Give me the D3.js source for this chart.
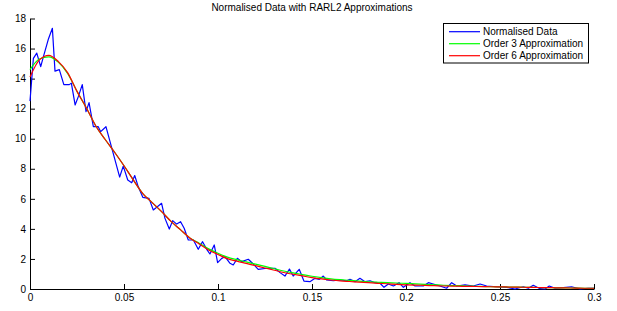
<!DOCTYPE html>
<html>
<head>
<meta charset="utf-8">
<script src="https://cdn.jsdelivr.net/npm/d3@7"></script>
<style>
  body { margin: 0; background: #fff; }
  svg { font-family: "Liberation Sans", Arial, sans-serif; }
  .axis text { font-size: 10px; fill: #000; }
  .axis path, .axis line { stroke: #000; }
</style>
</head>
<body>
<div id="chart"></div>
<script>
// normalised data (blue)
var dataX = [0, 0.0018, 0.0036, 0.0057, 0.0071, 0.0097, 0.0119, 0.0133, 0.0156, 0.018,
  0.0209, 0.022, 0.024, 0.0257, 0.0278, 0.0298, 0.0314, 0.0337, 0.0363, 0.0376,
  0.0404, 0.0477, 0.0496, 0.052, 0.0541, 0.0557, 0.0576, 0.06, 0.0633, 0.0656,
  0.0674, 0.07, 0.0718, 0.0741, 0.0759, 0.078, 0.0801, 0.082, 0.0842, 0.0869,
  0.0895, 0.0918, 0.094, 0.0957, 0.098, 0.0998, 0.102, 0.1037, 0.1064, 0.1081,
  0.1103, 0.1126, 0.1161, 0.1188, 0.1214, 0.1259, 0.1303, 0.133, 0.1356, 0.138,
  0.14, 0.1432, 0.1457, 0.1489, 0.1516, 0.1539, 0.156, 0.1578, 0.1613, 0.1649,
  0.1684, 0.1702, 0.1729, 0.1755, 0.1782, 0.1809, 0.1835, 0.1862, 0.1883, 0.1906,
  0.1933, 0.1963, 0.1986, 0.2021, 0.2048, 0.2092, 0.2119, 0.2145, 0.218, 0.2216,
  0.2243, 0.227, 0.2314, 0.2358, 0.2394, 0.2429, 0.2482, 0.2536, 0.258, 0.2624,
  0.2651, 0.2677, 0.2713, 0.274, 0.2762, 0.2793, 0.2837, 0.2881, 0.2926, 0.297, 0.3]
var dataY = [12.5, 15.35, 15.7, 14.8, 15.45, 16.6, 17.35, 14.5, 14.6, 13.6,
  13.6, 13.7, 12.25, 12.8, 13.6, 11.8, 12.4, 10.8, 10.8, 10.47,
  10.8, 7.45, 8.18, 7.25, 7.07, 7.55, 6.8, 6.1, 6.03, 5.26,
  5.44, 5.7, 4.7, 3.99, 4.55, 4.32, 4.48, 4.04, 3.26, 3.26,
  2.64, 3.15, 2.64, 2.33, 2.93, 1.75, 2.04, 2.15, 1.71, 1.6,
  2.04, 1.82, 1.98, 1.66, 1.31, 1.38, 1.38, 1.09, 0.86, 1.33,
  0.86, 1.31, 0.53, 0.49, 0.71, 0.64, 0.86, 0.6, 0.55, 0.6,
  0.55, 0.64, 0.49, 0.71, 0.49, 0.55, 0.42, 0.38, 0.11, 0.33,
  0.2, 0.42, 0.11, 0.42, 0.2, 0.2, 0.42, 0.33, 0.2, 0.05,
  0.42, 0.2, 0.27, 0.2, 0.33, 0.2, 0.15, 0.11, 0, 0.15,
  0.05, 0.25, 0.02, 0, 0.2, 0.05, 0.09, 0.15, 0, 0.05, 0.05]

// approximations, sampled every 0.005
var fitX = d3.range(61).map(function(i) { return i * 0.005; })
var order3 = [14.6, 15.3, 15.45, 15.1, 14.35, 13.15, 12.05, 10.85, 9.95, 9.1,
  8.2, 7.25, 6.35, 5.75, 5.15, 4.5, 3.95, 3.4, 3.05, 2.67,
  2.38, 2.12, 1.95, 1.8, 1.65, 1.5, 1.35, 1.2, 1.07, 0.96,
  0.85, 0.76, 0.68, 0.62, 0.57, 0.52, 0.48, 0.45, 0.42, 0.4,
  0.37, 0.34, 0.31, 0.28, 0.25, 0.23, 0.21, 0.19, 0.17, 0.15,
  0.14, 0.13, 0.12, 0.11, 0.1, 0.09, 0.08, 0.07, 0.06, 0.05, 0.05]
var order6 = [14.1, 15.25, 15.55, 15.15, 14.4, 13.15, 12.05, 10.85, 9.95, 9.1,
  8.2, 7.25, 6.35, 5.75, 5.15, 4.5, 3.95, 3.4, 3.0, 2.6,
  2.3, 2.02, 1.85, 1.7, 1.55, 1.4, 1.25, 1.1, 0.98, 0.87,
  0.76, 0.67, 0.6, 0.54, 0.5, 0.46, 0.42, 0.38, 0.35, 0.31,
  0.28, 0.26, 0.24, 0.22, 0.2, 0.19, 0.18, 0.17, 0.16, 0.15,
  0.14, 0.13, 0.12, 0.11, 0.1, 0.09, 0.08, 0.07, 0.06, 0.05, 0.05]

var xTicks = [0, 0.05, 0.1, 0.15, 0.2, 0.25, 0.3]
var yTicks = [0, 2, 4, 6, 8, 10, 12, 14, 16, 18]
var seriesNames = ["Normalised Data", "Order 3 Approximation", "Order 6 Approximation"]
var seriesColors = ["#0000ff", "#00ff00", "#ff0000"]

var width = 617, height = 311

var svg = d3.select("#chart")
  .append("svg")
  .attr("width", width)
  .attr("height", height)

var x = d3.scaleLinear().domain([0, 0.3]).range([30, 594])
var y = d3.scaleLinear().domain([0, 18]).range([289, 18.5])

// axes (MATLAB style, box off, ticks pointing in)
svg.append("g")
  .attr("class", "axis")
  .attr("transform", "translate(0,289)")
  .call(d3.axisBottom(x)
    .tickValues(xTicks)
    .tickFormat(function(d) { return d3.format("")(+d.toFixed(2)); })
    .tickSize(-5).tickSizeOuter(0).tickPadding(5))

svg.append("g")
  .attr("class", "axis")
  .attr("transform", "translate(30,0)")
  .call(d3.axisLeft(y)
    .tickValues(yTicks)
    .tickSize(-5).tickSizeOuter(0).tickPadding(4))

svg.selectAll(".axis text").attr("font-family", null).attr("font-size", null)

// lines
var series = [
  { name: seriesNames[0], xs: dataX, ys: dataY, curve: d3.curveLinear },
  { name: seriesNames[1], xs: fitX, ys: order3, curve: d3.curveMonotoneX },
  { name: seriesNames[2], xs: fitX, ys: order6, curve: d3.curveMonotoneX }
]

series.forEach(function(s, i) {
  var pts = s.xs.map(function(v, j) { return [v, s.ys[j]]; })
  svg.append("path")
    .datum(pts)
    .attr("fill", "none")
    .attr("stroke", seriesColors[i])
    .attr("stroke-width", 1.2)
    .attr("stroke-linejoin", "round")
    .attr("d", d3.line()
      .x(function(d) { return x(d[0]) })
      .y(function(d) { return y(d[1]) })
      .curve(s.curve))
})

// title
svg.append("text")
  .attr("x", 312)
  .attr("y", 11)
  .attr("text-anchor", "middle")
  .style("font-size", "10px")
  .text("Normalised Data with RARL2 Approximations")

// legend
var legend = svg.append("g")
legend.append("rect")
  .attr("x", 443.5).attr("y", 23.5)
  .attr("width", 145).attr("height", 39.5)
  .attr("fill", "#fff")
  .attr("stroke", "#000")
  .attr("stroke-width", 1)

seriesNames.forEach(function(name, i) {
  var ly = 31.7 + i * 12
  legend.append("line")
    .attr("x1", 449).attr("x2", 480)
    .attr("y1", ly).attr("y2", ly)
    .attr("stroke", seriesColors[i])
    .attr("stroke-width", 1.2)
  legend.append("text")
    .attr("x", 483).attr("y", ly + 3.6)
    .style("font-size", "10px")
    .text(name)
})
</script>
</body>
</html>
